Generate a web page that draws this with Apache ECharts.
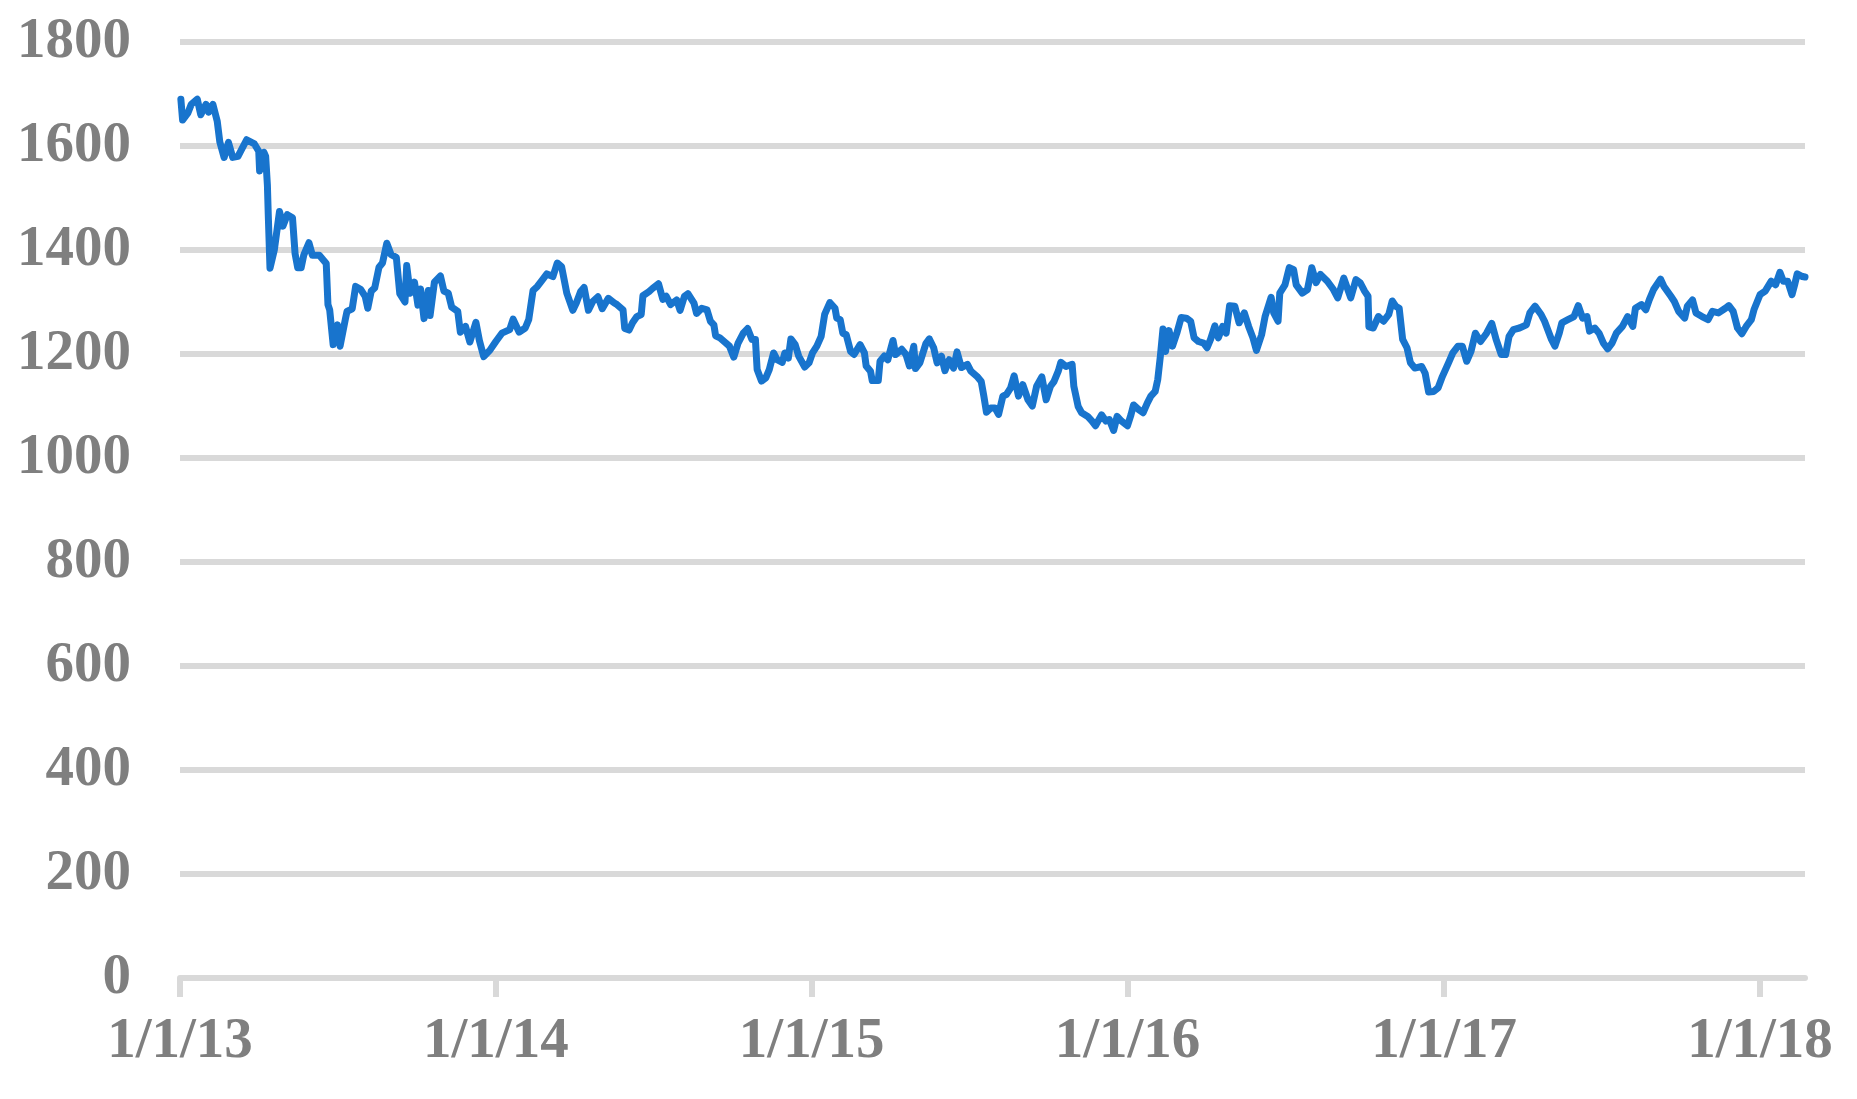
<!DOCTYPE html>
<html>
<head>
<meta charset="utf-8">
<script src="https://cdn.jsdelivr.net/npm/echarts@6/dist/echarts.min.js"></script>
<style>
html,body{margin:0;padding:0;background:#fff;}
#c{width:1857px;height:1099px;}
</style>
</head>
<body>
<div id="c"></div>
<script>
// Dates are stored as day offsets from startDate
const startDate = '2013-01-01';
const tickDates = ['2013-01-01','2014-01-01','2015-01-01','2016-01-01','2017-01-01','2018-01-01'];
const tickLabels = ['1/1/13','1/1/14','1/1/15','1/1/16','1/1/17','1/1/18'];
const lastDay = 1878;

const dayOffsets = [1,3,9,13,20,24,30,33,38,43,46,51,56,61,67,77,86,91,92,97,99,101,102,104,109,115,119,124,130,133,136,140,143,149,153,161,169,
171,173,177,182,185,191,193,199,203,209,214,217,221,225,230,234,239,244,250,254,260,262,266,271,275,278,282,287,289,294,301,305,310,314,321,324,330,335,342,346,351,358,365,372,381,385,392,399,403,408,413,419,424,431,436,441,447,454,458,463,467,472,477,483,488,495,502,
505,512,514,519,523,528,533,535,542,546,553,558,562,567,574,578,583,587,594,597,603,609,613,617,619,624,631,635,640,645,651,656,661,665,667,672,677,681,686,690,696,699,703,706,711,715,722,727,731,736,741,745,751,757,759,763,766,770,775,779,786,791,793,798,800,807,809,814,818,824,827,834,839,843,848,850,855,862,866,871,875,880,884,889,894,898,903,910,914,921,926,929,932,937,942,946,951,955,960,964,969,974,980,985,990,996,1001,1006,1010,1015,1018,1024,1031,1033,1038,1042,1049,1054,1058,1065,1070,1074,1079,1083,1088,1095,1099,1102,1108,1113,1118,1122,1127,1130,1133,1136,1139,1143,1147,1152,1157,1163,1168,1172,1177,
1183,1187,1191,1196,1200,1205,1209,1213,1219,1224,1230,1235,1240,1244,1250,1254,1261,1264,1269,1271,1277,1282,1287,1290,1297,1303,1308,1313,1318,1326,1333,1338,1345,1353,1359,1364,1369,1373,1374,1379,1385,1391,1397,1401,1405,1409,1413,1418,1422,1427,1435,1439,1443,1449,1454,1459,1466,1471,1477,1482,1487,1492,1497,1503,1510,1516,1521,1527,1532,1536,1541,1548,1556,1560,1566,1573,1577,1585,1589,1594,1597,1604,1611,1616,1621,1626,1629,1635,1640,1645,1650,1655,1660,1667,1673,1679,1682,1689,1694,1698,1703,1711,1715,1723,1727,1732,1739,1742,1748,1752,1759,1766,1771,1778,1786,1790,1795,1800,1805,1810,1816,1819,1826,1832,1839,1844,1849,1853,1858,1863,1866,1869,1875,1878];

const prices = [1690,1650,1663,1680,1690,1660,1680,1665,1680,1648,1608,1578,1607,1578,1580,1612,1604,1590,1552,1588,1580,1525,1468,1365,1400,1474,1446,1468,1462,1393,1366,1366,1390,1414,1390,1390,1374,
1295,1285,1218,1256,1215,1266,1282,1287,1330,1324,1311,1288,1321,1327,1367,1375,1413,1391,1386,1316,1300,1370,1317,1338,1294,1325,1268,1322,1274,1338,1350,1321,1317,1290,1282,1242,1253,1223,1261,1226,1195,1207,1224,1240,1247,1267,1242,1250,1266,1322,1330,1343,1354,1349,1375,1368,1317,1284,1298,1320,1328,1284,1301,1310,1287,1307,1298,
1295,1285,1249,1246,1260,1272,1276,1312,1320,1326,1335,1305,1311,1295,1304,1284,1311,1316,1298,1278,1288,1285,1263,1256,1235,1231,1221,1215,1194,1221,1240,1249,1228,1228,1170,1148,1154,1170,1202,1189,1184,1202,1192,1229,1218,1196,1175,1183,1202,1215,1234,1276,1299,1288,1269,1266,1240,1237,1205,1199,1218,1202,1177,1167,1149,1149,1186,1196,1189,1226,1199,1209,1199,1177,1215,1172,1183,1220,1229,1212,1183,1196,1168,1189,1173,1204,1174,1180,1167,1157,1147,1119,1088,1096,1096,1084,1119,1122,1135,1158,1119,1141,1112,1100,1138,1156,1112,1138,1147,1167,1184,1176,1180,1138,1099,1087,1080,1071,1062,1083,1071,1074,1053,1080,1071,1062,1083,1102,1093,1087,1106,1119,1128,1151,1196,1248,1205,1245,1215,1240,1270,1269,1263,1231,1224,
1221,1212,1228,1254,1231,1253,1240,1293,1292,1260,1279,1253,1231,1207,1237,1272,1309,1279,1263,1317,1333,1366,1362,1333,1317,1324,1366,1337,1353,1340,1324,1308,1346,1308,1343,1337,1321,1311,1252,1250,1272,1263,1276,1302,1292,1288,1228,1212,1183,1173,1176,1163,1127,1128,1135,1157,1183,1202,1215,1215,1186,1205,1240,1224,1240,1259,1228,1199,1199,1234,1247,1250,1256,1279,1292,1276,1263,1228,1215,1240,1260,1266,1272,1293,1269,1272,1244,1250,1240,1221,1210,1221,1240,1253,1272,1253,1288,1295,1285,1304,1324,1344,1330,1311,1301,1282,1269,1292,1304,1279,1272,1266,1282,1279,1288,1293,1282,1250,1239,1253,1266,1285,1314,1321,1340,1333,1357,1340,1340,1314,1333,1354,1349,1348];

const yMin = 0, yMax = 1800, yStep = 200;

const DAY = 86400000;
const t0 = Date.UTC(+startDate.slice(0,4), +startDate.slice(5,7)-1, +startDate.slice(8,10));
const tickDays = tickDates.map(s => Math.round((Date.UTC(+s.slice(0,4), +s.slice(5,7)-1, +s.slice(8,10)) - t0) / DAY));
const seriesData = dayOffsets.map((d, i) => [d, prices[i]]);

const labelFont = {color:'#7f7f7f', fontFamily:'"Liberation Serif", "Times New Roman", serif', fontWeight:'bold', fontSize:57};

const chart = echarts.init(document.getElementById('c'), null, {renderer:'canvas'});
chart.setOption({
  animation:false,
  backgroundColor:'#ffffff',
  grid:{left:180, right:52, top:42, bottom:121, containLabel:false},
  xAxis:{
    type:'value', min:0, max:lastDay,
    splitLine:{show:false},
    axisLine:{show:true, lineStyle:{color:'#d9d9d9', width:6}},
    axisTick:{show:true, customValues:tickDays, length:19, lineStyle:{color:'#d9d9d9', width:6}},
    axisLabel:Object.assign({
      customValues:tickDays, margin:36,
      formatter:function(v){ const i = tickDays.indexOf(Math.round(v)); return i>=0 ? tickLabels[i] : ''; }
    }, labelFont)
  },
  yAxis:{
    type:'value', min:yMin, max:yMax, interval:yStep,
    axisLine:{show:false}, axisTick:{show:false},
    splitLine:{show:true, lineStyle:{color:'#d9d9d9', width:6}},
    axisLabel:Object.assign({margin:49, formatter:function(v){ return String(v); }}, labelFont)
  },
  series:[{
    type:'line', data:seriesData, showSymbol:false, symbol:'none',
    lineStyle:{color:'#1874cd', width:7, join:'round', cap:'round'},
    z:5
  }]
});
</script>
</body>
</html>
